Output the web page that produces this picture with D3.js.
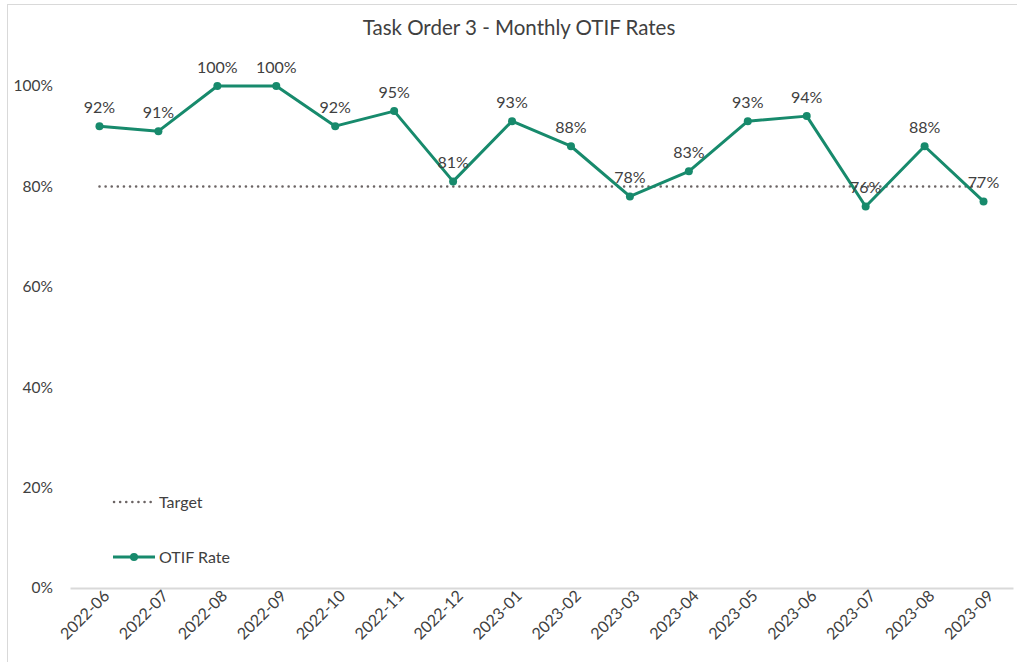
<!DOCTYPE html>
<html>
<head>
<meta charset="utf-8">
<script src="https://cdn.jsdelivr.net/npm/d3@7"></script>
<style>
  body { margin: 0; background: #fff; }
  text { font-family: Lato, "Open Sans", sans-serif; fill: #404040; }
</style>
</head>
<body>
<div class="container"></div>
<script>
var width = 1017;
var height = 662;
var padding = { top: 86, bottom: 74, left: 70, right: 4 };

// chart data
var months = ["2022-06", "2022-07", "2022-08", "2022-09", "2022-10", "2022-11", "2022-12",
  "2023-01", "2023-02", "2023-03", "2023-04", "2023-05", "2023-06", "2023-07", "2023-08", "2023-09"];
var otifRate = [92, 91, 100, 100, 92, 95, 81, 93, 88, 78, 83, 93, 94, 76, 88, 77];
var target = 80;
var yTicks = [0, 20, 40, 60, 80, 100];

var green = "#178a6c";
var grey = "#6b6464";

var svg = d3.select(".container").append("svg")
  .attr("width", width)
  .attr("height", height);

// outer frame
svg.append("rect")
  .attr("x", 7.5).attr("y", 4.5)
  .attr("width", width).attr("height", height)
  .style("fill", "none")
  .style("stroke", "#d9d9d9")
  .style("stroke-width", 1);

var xScale = d3.scaleBand().domain(months).range([padding.left, width - padding.right]);
var yScale = d3.scaleLinear().domain([0, 100]).range([height - padding.bottom, padding.top]);
var cx = function (m) { return xScale(m) + xScale.bandwidth() / 2; };

// title
svg.append("text")
  .attr("x", 519)
  .attr("y", 35)
  .style("text-anchor", "middle")
  .style("font-size", "20.5px")
  .text("Task Order 3 - Monthly OTIF Rates");

// y axis labels (no line)
svg.append("g").selectAll("text")
  .data(yTicks)
  .enter().append("text")
  .attr("x", 53)
  .attr("y", function (d) { return yScale(d); })
  .attr("dy", "0.35em")
  .style("text-anchor", "end")
  .style("font-size", "15.5px")
  .text(function (d) { return d + "%"; });

// x axis
var axisX = d3.axisBottom(xScale).tickSize(0).tickPadding(6);
var gx = svg.append("g")
  .attr("transform", "translate(0," + yScale(0) + ")")
  .call(axisX);
gx.select(".domain").style("stroke", "#d9d9d9").style("stroke-width", 2);
gx.selectAll("text")
  .style("font-size", "16px")
  .style("font-family", "Lato, 'Open Sans', sans-serif")
  .style("fill", "#404040")
  .style("text-anchor", "end")
  .attr("dy", 0)
  .attr("transform", "translate(11,9) rotate(-45)")
  .attr("y", 0)
  .attr("x", 0);

// target line
svg.append("line")
  .attr("x1", cx(months[0]))
  .attr("x2", cx(months[months.length - 1]))
  .attr("y1", yScale(target))
  .attr("y2", yScale(target))
  .style("stroke", grey)
  .style("stroke-width", 2.5)
  .style("stroke-linecap", "round")
  .style("stroke-dasharray", "0.1,6");

// OTIF line
var line = d3.line()
  .x(function (d, i) { return cx(months[i]); })
  .y(function (d) { return yScale(d); });

svg.append("path")
  .datum(otifRate)
  .attr("d", line)
  .style("fill", "none")
  .style("stroke", green)
  .style("stroke-width", 3)
  .style("stroke-linejoin", "round");

svg.append("g").selectAll("circle")
  .data(otifRate)
  .enter().append("circle")
  .attr("cx", function (d, i) { return cx(months[i]); })
  .attr("cy", function (d) { return yScale(d); })
  .attr("r", 4)
  .style("fill", green);

svg.append("g").selectAll("text")
  .data(otifRate)
  .enter().append("text")
  .attr("x", function (d, i) { return cx(months[i]); })
  .attr("y", function (d) { return yScale(d) - 13; })
  .style("text-anchor", "middle")
  .style("font-size", "16px")
  .text(function (d) { return d + "%"; });

// legend
var legend = svg.append("g").attr("transform", "translate(113,0)");
legend.append("line")
  .attr("x1", 1).attr("x2", 41).attr("y1", 502).attr("y2", 502)
  .style("stroke", grey)
  .style("stroke-width", 2.5)
  .style("stroke-linecap", "round")
  .style("stroke-dasharray", "0.1,6");
legend.append("text")
  .attr("x", 46).attr("y", 502).attr("dy", "0.35em")
  .style("font-size", "16px")
  .text("Target");
legend.append("line")
  .attr("x1", 0).attr("x2", 42).attr("y1", 557).attr("y2", 557)
  .style("stroke", green)
  .style("stroke-width", 3);
legend.append("circle")
  .attr("cx", 21).attr("cy", 557).attr("r", 4)
  .style("fill", green);
legend.append("text")
  .attr("x", 46).attr("y", 557).attr("dy", "0.35em")
  .style("font-size", "16px")
  .text("OTIF Rate");
</script>
</body>
</html>
